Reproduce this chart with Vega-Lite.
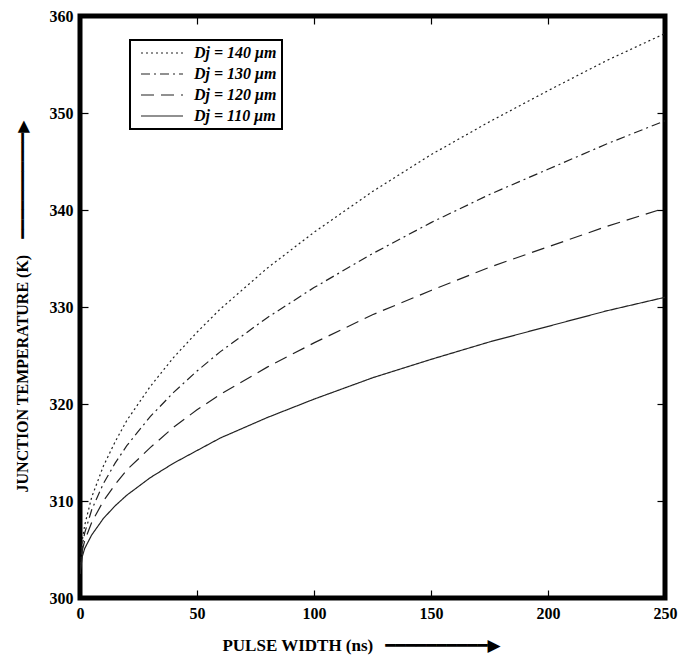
{
  "$schema": "https://vega.github.io/schema/vega-lite/v6.json",
  "autosize": "none",
  "width": 585,
  "height": 582,
  "padding": {"left": 80, "top": 16, "right": 30, "bottom": 60},
  "background": "white",
  "config": {
    "view": {"stroke": "black", "strokeWidth": 5},
    "legend": {"strokeWidth": 2},
    "axis": {"grid": false, "domain": false, "tickColor": "black", "tickWidth": 1.2, "tickSize": -8,
      "labelFont": "Liberation Serif", "labelFontWeight": "bold", "labelFontSize": 16, "labelColor": "black",
      "titleFont": "Liberation Serif, DejaVu Sans", "titleFontWeight": "bold", "titleFontSize": 16, "titleColor": "black"}
  },
  "data": {"values": [
    {"t":0,"T":302.5,"d":"140"},{"t":1,"T":306.0,"d":"140"},{"t":2,"T":307.5,"d":"140"},{"t":5,"T":310.4,"d":"140"},{"t":10,"T":313.6,"d":"140"},{"t":15,"T":316.1,"d":"140"},{"t":20,"T":318.3,"d":"140"},{"t":30,"T":321.8,"d":"140"},{"t":40,"T":324.8,"d":"140"},{"t":50,"T":327.4,"d":"140"},{"t":60,"T":329.8,"d":"140"},{"t":80,"T":334.0,"d":"140"},{"t":100,"T":337.7,"d":"140"},{"t":125,"T":341.9,"d":"140"},{"t":150,"T":345.7,"d":"140"},{"t":175,"T":349.1,"d":"140"},{"t":200,"T":352.3,"d":"140"},{"t":225,"T":355.4,"d":"140"},{"t":250,"T":358.2,"d":"140"},
    {"t":0,"T":302.5,"d":"130"},{"t":1,"T":305.5,"d":"130"},{"t":2,"T":306.7,"d":"130"},{"t":5,"T":309.1,"d":"130"},{"t":10,"T":311.8,"d":"130"},{"t":15,"T":313.9,"d":"130"},{"t":20,"T":315.7,"d":"130"},{"t":30,"T":318.7,"d":"130"},{"t":40,"T":321.2,"d":"130"},{"t":50,"T":323.4,"d":"130"},{"t":60,"T":325.4,"d":"130"},{"t":80,"T":328.9,"d":"130"},{"t":100,"T":332.0,"d":"130"},{"t":125,"T":335.5,"d":"130"},{"t":150,"T":338.7,"d":"130"},{"t":175,"T":341.6,"d":"130"},{"t":200,"T":344.2,"d":"130"},{"t":225,"T":346.8,"d":"130"},{"t":250,"T":349.2,"d":"130"},
    {"t":0,"T":302.5,"d":"120"},{"t":1,"T":304.9,"d":"120"},{"t":2,"T":305.9,"d":"120"},{"t":5,"T":307.8,"d":"120"},{"t":10,"T":310.0,"d":"120"},{"t":15,"T":311.7,"d":"120"},{"t":20,"T":313.2,"d":"120"},{"t":30,"T":315.5,"d":"120"},{"t":40,"T":317.6,"d":"120"},{"t":50,"T":319.4,"d":"120"},{"t":60,"T":321.0,"d":"120"},{"t":80,"T":323.8,"d":"120"},{"t":100,"T":326.3,"d":"120"},{"t":125,"T":329.2,"d":"120"},{"t":150,"T":331.7,"d":"120"},{"t":175,"T":334.1,"d":"120"},{"t":200,"T":336.2,"d":"120"},{"t":225,"T":338.3,"d":"120"},{"t":250,"T":340.2,"d":"120"},
    {"t":0,"T":302.5,"d":"110"},{"t":1,"T":304.3,"d":"110"},{"t":2,"T":305.1,"d":"110"},{"t":5,"T":306.5,"d":"110"},{"t":10,"T":308.2,"d":"110"},{"t":15,"T":309.5,"d":"110"},{"t":20,"T":310.6,"d":"110"},{"t":30,"T":312.4,"d":"110"},{"t":40,"T":313.9,"d":"110"},{"t":50,"T":315.2,"d":"110"},{"t":60,"T":316.5,"d":"110"},{"t":80,"T":318.6,"d":"110"},{"t":100,"T":320.5,"d":"110"},{"t":125,"T":322.7,"d":"110"},{"t":150,"T":324.6,"d":"110"},{"t":175,"T":326.4,"d":"110"},{"t":200,"T":328.0,"d":"110"},{"t":225,"T":329.6,"d":"110"},{"t":250,"T":331.0,"d":"110"}
  ]},
  "layer": [
    {
      "mark": {"type": "line", "color": "#222", "strokeWidth": 1.2, "clip": true},
      "encoding": {
        "x": {"field": "t", "type": "quantitative", "scale": {"domain": [0, 250], "nice": false},
          "axis": {"orient": "bottom", "values": [0, 50, 100, 150, 200, 250], "labelPadding": 15, "labelFlush": false,
            "title": "PULSE WIDTH (ns)\u2002\u2009━━━━━━━━━━▶", "titleFontSize": 17, "titleX": 281, "titleY": 47, "titleAlign": "center", "titleBaseline": "middle"}},
        "y": {"field": "T", "type": "quantitative", "scale": {"domain": [300, 360], "nice": false, "zero": false},
          "axis": {"orient": "left", "values": [300, 310, 320, 330, 340, 350, 360], "labelPadding": 15, "labelFlush": false,
            "title": "JUNCTION TEMPERATURE (K)\u2003━━━━━━━━━━━▶", "titleX": -58, "titleY": 290, "titleAngle": 270, "titleAlign": "center", "titleBaseline": "middle"}},
        "strokeDash": {"field": "d", "type": "nominal",
          "scale": {"domain": ["140", "130", "120", "110"], "range": [[2, 3], [9, 4, 2, 4], [13, 7], [1, 0]]},
          "legend": {"orient": "none", "legendX": 50, "legendY": 24, "title": null,
            "strokeColor": "black", "fillColor": "white", "padding": 5,
            "symbolType": "M-4.2,0H4.2", "symbolSize": 100, "symbolStrokeColor": "#222", "symbolStrokeWidth": 1.2,
            "symbolOffset": 19, "labelOffset": 24, "rowPadding": 5,
            "labelFont": "Liberation Serif, DejaVu Serif", "labelFontStyle": "italic", "labelFontWeight": "bold", "labelFontSize": 16, "labelColor": "black",
            "labelExpr": "'Dj = ' + datum.label + ' μm'"}}
      }
    },
    {
      "mark": {"type": "line", "strokeOpacity": 0},
      "encoding": {
        "x": {"field": "t", "type": "quantitative", "axis": {"orient": "top", "values": [0, 50, 100, 150, 200, 250], "labels": false, "title": null}},
        "y": {"field": "T", "type": "quantitative", "axis": {"orient": "right", "values": [300, 310, 320, 330, 340, 350, 360], "labels": false, "title": null}},
        "detail": {"field": "d", "type": "nominal"}
      }
    }
  ],
  "resolve": {"axis": {"x": "independent", "y": "independent"}}
}
